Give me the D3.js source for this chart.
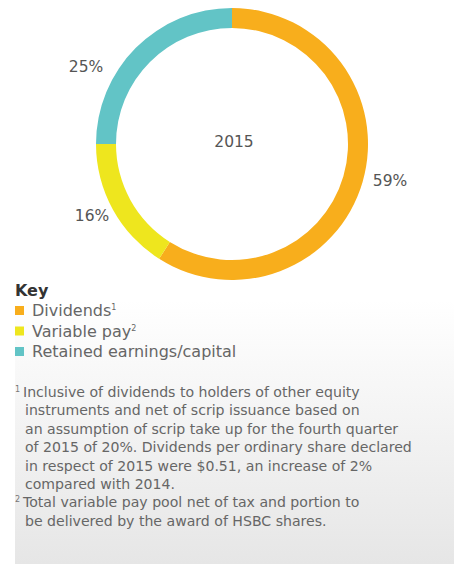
<!DOCTYPE html>
<html><head><meta charset="utf-8">
<script src="https://cdn.jsdelivr.net/npm/d3@7"></script>
<style>
html,body{margin:0;padding:0;background:#fff;}
svg{display:block;font-family:"DejaVu Sans",Arial,sans-serif;}
</style></head>
<body>
<svg id="c" width="454" height="564"></svg>
<script>
const categories = ["Dividends", "Variable pay", "Retained earnings/capital"];
const superscripts = ["1", "2", ""];
const values = [59, 16, 25];
const valueLabels = ["59%", "16%", "25%"];
const colors = ["#F8AE1C", "#EEE61E", "#62C4C6"];
const centerLabel = "2015";
const footnotes = [
  {mark: "1", lines: [
    "Inclusive of dividends to holders of other equity",
    "instruments and net of scrip issuance based on",
    "an assumption of scrip take up for the fourth quarter",
    "of 2015 of 20%. Dividends per ordinary share declared",
    "in respect of 2015 were $0.51, an increase of 2%",
    "compared with 2014."]},
  {mark: "2", lines: [
    "Total variable pay pool net of tax and portion to",
    "be delivered by the award of HSBC shares."]}
];

const svg = d3.select("#c");
const defs = svg.append("defs");
const grad = defs.append("linearGradient").attr("id","bg").attr("x1",0).attr("y1",0).attr("x2",0).attr("y2",1);
grad.append("stop").attr("offset","0%").attr("stop-color","#ffffff");
grad.append("stop").attr("offset","100%").attr("stop-color","#e6e6e6");
svg.append("rect").attr("x",15).attr("y",300).attr("width",439).attr("height",264).attr("fill","url(#bg)");

const cx = 232, cy = 144, rOut = 136, rIn = 116;
const pie = d3.pie().sort(null).value(d => d)(values);
const arc = d3.arc().innerRadius(rIn).outerRadius(rOut);
const g = svg.append("g").attr("transform", `translate(${cx},${cy})`);
g.selectAll("path").data(pie).join("path")
  .attr("d", arc).attr("fill", (d,i) => colors[i]);

// value labels placed outside ring
const labelPos = [[390, 186], [92, 221], [86, 72]];
svg.selectAll("text.val").data(valueLabels).join("text")
  .attr("class","val")
  .attr("x",(d,i)=>labelPos[i][0]).attr("y",(d,i)=>labelPos[i][1])
  .attr("text-anchor","middle").attr("font-size",15.5).attr("fill","#555")
  .text(d=>d);

svg.append("text").attr("x",234).attr("y",147).attr("text-anchor","middle")
  .attr("font-size",15.5).attr("fill","#555").text(centerLabel);

// Key
svg.append("text").attr("x",15).attr("y",296).attr("font-size",16)
  .attr("font-weight","bold").attr("fill","#333").text("Key");
const leg = svg.selectAll("g.leg").data(categories).join("g").attr("class","leg")
  .attr("transform",(d,i)=>`translate(15,${310 + i*20.5})`);
leg.append("rect").attr("x",0).attr("y",-4).attr("width",9).attr("height",9)
  .attr("fill",(d,i)=>colors[i]);
const lt = leg.append("text").attr("x",17).attr("y",6).attr("font-size",16).attr("fill","#666");
lt.append("tspan").text(d=>d);
lt.append("tspan").attr("font-size",8).attr("dy",-6).text((d,i)=>superscripts[i]);

// Footnotes
let line = 0;
footnotes.forEach(fn => {
  svg.append("text").attr("x",15).attr("y",397 + line*18.4 - 5).attr("font-size",8).attr("fill","#777").text(fn.mark);
  fn.lines.forEach((t,j) => {
    svg.append("text").attr("x", j===0 ? 23 : 25).attr("y", 397 + line*18.4)
      .attr("font-size",14.1).attr("fill","#666").text(t);
    line++;
  });
});
</script>
</body></html>
